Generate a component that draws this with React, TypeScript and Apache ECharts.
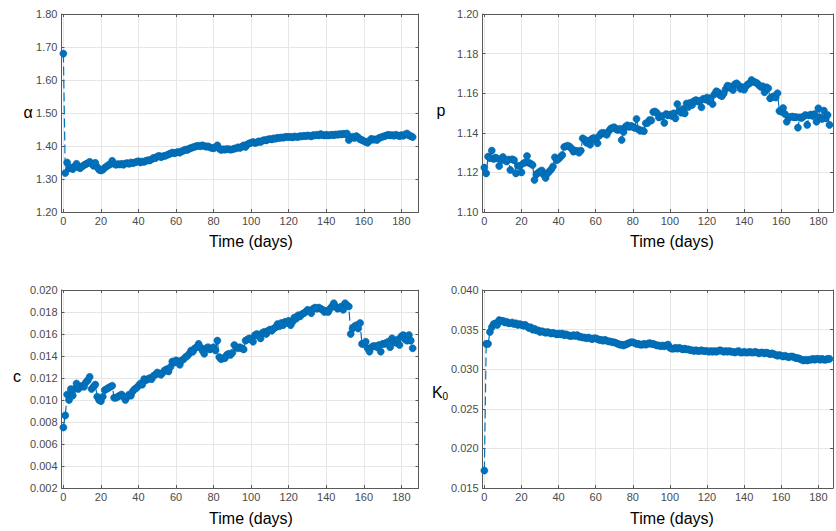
import React, { useEffect, useRef } from "react";
import * as echarts from "echarts";

const alphaVals = [
  1.680, 1.318, 1.350, 1.332, 1.335, 1.330, 1.338, 1.346, 1.335, 1.333,
  1.338, 1.342, 1.345, 1.348, 1.352, 1.347, 1.340, 1.349, 1.336, 1.328,
  1.326, 1.328, 1.334, 1.338, 1.342, 1.345, 1.355, 1.346, 1.343, 1.345,
  1.344, 1.346, 1.343, 1.347, 1.348, 1.346, 1.350, 1.348, 1.350, 1.352,
  1.354, 1.350, 1.353, 1.352, 1.355, 1.357, 1.356, 1.360, 1.364, 1.363,
  1.368, 1.370, 1.366, 1.369, 1.370, 1.372, 1.375, 1.377, 1.380, 1.378,
  1.380, 1.382, 1.380, 1.384, 1.386, 1.389, 1.388, 1.392, 1.394, 1.396,
  1.398, 1.400, 1.401, 1.399, 1.402, 1.400, 1.398, 1.399, 1.396, 1.394,
  1.393, 1.396, 1.402, 1.392, 1.388, 1.390, 1.389, 1.391, 1.390, 1.389,
  1.390, 1.392, 1.393, 1.396, 1.394, 1.398, 1.402, 1.397, 1.405, 1.408,
  1.410, 1.412, 1.409, 1.411, 1.414, 1.412, 1.416, 1.418, 1.417, 1.420,
  1.421, 1.420, 1.423, 1.422, 1.425, 1.424, 1.426, 1.425, 1.427, 1.428,
  1.427, 1.428, 1.426, 1.429, 1.428, 1.427, 1.430, 1.429, 1.431, 1.430,
  1.432, 1.431, 1.429, 1.433, 1.432, 1.434, 1.432, 1.436, 1.433, 1.432,
  1.434, 1.432, 1.433, 1.434, 1.433, 1.435, 1.434, 1.436, 1.435, 1.437,
  1.436, 1.438, 1.418, 1.425, 1.428, 1.424, 1.430, 1.426, 1.420, 1.418,
  1.415, 1.412, 1.410, 1.416, 1.422, 1.419, 1.420, 1.418, 1.424, 1.426,
  1.428, 1.430, 1.432, 1.434, 1.432, 1.433, 1.431, 1.434, 1.432, 1.430,
  1.433, 1.431, 1.435, 1.438, 1.432, 1.430, 1.427,
];

const pVals = [
  1.1224, 1.1195, 1.1280, 1.1272, 1.1310, 1.1268, 1.1275, 1.1270, 1.1232, 1.1262,
  1.1278, 1.1262, 1.1255, 1.1265, 1.1212, 1.1266, 1.1262, 1.1195, 1.1234, 1.1232,
  1.1200, 1.1246, 1.1250, 1.1283, 1.1248, 1.1244, 1.1237, 1.1162, 1.1190, 1.1198,
  1.1205, 1.1210, 1.1188, 1.1172, 1.1195, 1.1205, 1.1215, 1.1230, 1.1276, 1.1262,
  1.1268, 1.1278, 1.1288, 1.1328, 1.1332, 1.1335, 1.1330, 1.1320, 1.1305, 1.1310,
  1.1308, 1.1300, 1.1310, 1.1372, 1.1366, 1.1350, 1.1360, 1.1340, 1.1370, 1.1374,
  1.1362, 1.1347, 1.1385, 1.1398, 1.1400, 1.1395, 1.1390, 1.1408, 1.1420, 1.1425,
  1.1428, 1.1418, 1.1414, 1.1420, 1.1364, 1.1404, 1.1430, 1.1438, 1.1430, 1.1435,
  1.1430, 1.1425, 1.1470, 1.1418, 1.1410, 1.1412, 1.1408, 1.1448, 1.1450, 1.1465,
  1.1462, 1.1505, 1.1508, 1.1500, 1.1478, 1.1482, 1.1485, 1.1450, 1.1495, 1.1488,
  1.1492, 1.1485, 1.1498, 1.1473, 1.1545, 1.1510, 1.1502, 1.1520, 1.1498, 1.1548,
  1.1530, 1.1552, 1.1540, 1.1560, 1.1565, 1.1558, 1.1562, 1.1529, 1.1572, 1.1568,
  1.1578, 1.1560, 1.1575, 1.1545, 1.1595, 1.1610, 1.1605, 1.1590, 1.1585, 1.1598,
  1.1620, 1.1638, 1.1635, 1.1625, 1.1616, 1.1645, 1.1650, 1.1640, 1.1622, 1.1630,
  1.1618, 1.1635, 1.1645, 1.1650, 1.1667, 1.1658, 1.1655, 1.1650, 1.1640, 1.1632,
  1.1635, 1.1605, 1.1630, 1.1625, 1.1574, 1.1580, 1.1585, 1.1578, 1.1600, 1.1510,
  1.1507, 1.1525, 1.1495, 1.1456, 1.1478, 1.1480, 1.1482, 1.1478, 1.1480, 1.1426,
  1.1478, 1.1475, 1.1482, 1.1490, 1.1440, 1.1488, 1.1492, 1.1485, 1.1495, 1.1456,
  1.1524, 1.1478, 1.1470, 1.1512, 1.1473, 1.1490, 1.1440,
];

const cVals = [
  0.0075, 0.0086, 0.0105, 0.0100, 0.0110, 0.0104, 0.0110, 0.0115, 0.0110, 0.0112,
  0.0113, 0.0112, 0.0116, 0.0118, 0.0121, 0.0110, 0.0112, 0.0114, 0.0103, 0.0100,
  0.0099, 0.0103, 0.0109, 0.0110, 0.0111, 0.0112, 0.0113, 0.0102, 0.0102, 0.0103,
  0.0104, 0.0105, 0.0103, 0.0100, 0.0103, 0.0105, 0.0104, 0.0108, 0.0110, 0.0111,
  0.0113, 0.0115, 0.0114, 0.0119, 0.0118, 0.0119, 0.0120, 0.0119, 0.0122, 0.0123,
  0.0125, 0.0124, 0.0123, 0.0125, 0.0127, 0.0128, 0.0126, 0.0130, 0.0135, 0.0134,
  0.0136, 0.0135, 0.0132, 0.0136, 0.0137, 0.0139, 0.0140, 0.0142, 0.0145, 0.0144,
  0.0147, 0.0148, 0.0151, 0.0148, 0.0145, 0.0142, 0.0147, 0.0148, 0.0146, 0.0147,
  0.0148, 0.0145, 0.0154, 0.0139, 0.0137, 0.0138, 0.0138, 0.0141, 0.0142, 0.0141,
  0.0143, 0.0150, 0.0148, 0.0147, 0.0148, 0.0147, 0.0146, 0.0154, 0.0155, 0.0156,
  0.0155, 0.0153, 0.0159, 0.0160, 0.0158, 0.0156, 0.0161, 0.0162, 0.0160, 0.0163,
  0.0164, 0.0163, 0.0165, 0.0166, 0.0169, 0.0167, 0.0170, 0.0168, 0.0171, 0.0170,
  0.0172, 0.0168, 0.0171, 0.0175, 0.0174, 0.0177, 0.0176, 0.0178, 0.0179, 0.0180,
  0.0182, 0.0181, 0.0179, 0.0183, 0.0184, 0.0183, 0.0184, 0.0183, 0.0182, 0.0180,
  0.0181, 0.0180, 0.0183, 0.0185, 0.0188, 0.0185, 0.0183, 0.0184, 0.0185, 0.0182,
  0.0188, 0.0186, 0.0185, 0.0160, 0.0165, 0.0167, 0.0168, 0.0165, 0.0170, 0.0151,
  0.0151, 0.0153, 0.0147, 0.0144, 0.0148, 0.0149, 0.0149, 0.0148, 0.0150, 0.0144,
  0.0151, 0.0151, 0.0152, 0.0153, 0.0148, 0.0156, 0.0153, 0.0152, 0.0155, 0.0150,
  0.0158, 0.0159, 0.0155, 0.0154, 0.0159, 0.0154, 0.0147,
];

const k0Vals = [
  0.0172, 0.0332, 0.0332, 0.0347, 0.0353, 0.0357, 0.0358, 0.0356, 0.0362, 0.0361,
  0.0361, 0.0359, 0.0360, 0.0358, 0.0358, 0.0359, 0.0357, 0.0358, 0.0356, 0.0357,
  0.0356, 0.0355, 0.0356, 0.0354, 0.0352, 0.0353, 0.0350, 0.0351, 0.0349, 0.0349,
  0.0347, 0.0348, 0.0347, 0.0346, 0.0347, 0.0346, 0.0345, 0.0346, 0.0345, 0.0344,
  0.0345, 0.0344, 0.0345, 0.0343, 0.0344, 0.0343, 0.0342, 0.0342, 0.0343, 0.0342,
  0.0343, 0.0341, 0.0341, 0.0340, 0.0340, 0.0339, 0.0340, 0.0339, 0.0338, 0.0339,
  0.0339, 0.0338, 0.0337, 0.0337, 0.0336, 0.0337, 0.0336, 0.0335, 0.0335, 0.0334,
  0.0334, 0.0333, 0.0332, 0.0331, 0.0331, 0.0330, 0.0331, 0.0332, 0.0333, 0.0334,
  0.0334, 0.0333, 0.0332, 0.0332, 0.0331, 0.0331, 0.0332, 0.0331, 0.0332, 0.0333,
  0.0332, 0.0332, 0.0331, 0.0330, 0.0330, 0.0329, 0.0330, 0.0329, 0.0330, 0.0331,
  0.0327, 0.0326, 0.0326, 0.0327, 0.0326, 0.0327, 0.0326, 0.0325, 0.0326, 0.0325,
  0.0325, 0.0324, 0.0324, 0.0323, 0.0324, 0.0323, 0.0323, 0.0324, 0.0323, 0.0323,
  0.0323, 0.0322, 0.0323, 0.0322, 0.0323, 0.0322, 0.0323, 0.0324, 0.0323, 0.0322,
  0.0323, 0.0322, 0.0323, 0.0322, 0.0322, 0.0321, 0.0322, 0.0323, 0.0321, 0.0321,
  0.0322, 0.0321, 0.0321, 0.0322, 0.0321, 0.0321, 0.0322, 0.0321, 0.0320, 0.0321,
  0.0321, 0.0320, 0.0321, 0.0320, 0.0319, 0.0320, 0.0319, 0.0318, 0.0317, 0.0318,
  0.0317, 0.0316, 0.0317, 0.0316, 0.0315, 0.0316, 0.0316, 0.0315, 0.0314, 0.0314,
  0.0313, 0.0312, 0.0311, 0.0312, 0.0311, 0.0312, 0.0312, 0.0313, 0.0312, 0.0313,
  0.0313, 0.0312, 0.0313, 0.0312, 0.0312, 0.0313, 0.0313,
];

const xLabel = "Time (days)";

const BLUE = "#0072BD";
const FONT = "Liberation Sans, Arial, Helvetica, sans-serif";
const AXIS_COLOR = "#595959";
const LABEL_COLOR = "#4a4a4a";
const GRID_COLOR = "#e6e6e6";

type Panel = {
  vals: number[];
  yMin: number;
  yMax: number;
  yInt: number;
  dec: number;
  xMax: number;
  grid: { left: number; top: number; width: number; height: number };
};

const panels: Panel[] = [
  { vals: alphaVals, yMin: 1.2, yMax: 1.8, yInt: 0.1, dec: 2, xMax: 189.1, grid: { left: 61.5, top: 14, width: 357, height: 198 } },
  { vals: pVals, yMin: 1.1, yMax: 1.2, yInt: 0.02, dec: 2, xMax: 187.9, grid: { left: 482.5, top: 14, width: 353.3, height: 198 } },
  { vals: cVals, yMin: 0.002, yMax: 0.02, yInt: 0.002, dec: 3, xMax: 189.1, grid: { left: 61.5, top: 290, width: 357, height: 198 } },
  { vals: k0Vals, yMin: 0.015, yMax: 0.04, yInt: 0.005, dec: 3, xMax: 187.9, grid: { left: 482.5, top: 290, width: 353.3, height: 198 } },
];

export default function App() {
  const ref = useRef<HTMLDivElement>(null);
  useEffect(() => {
    if (!ref.current) return;
    const chart = echarts.init(ref.current, null, { renderer: "svg" });
    const grids: any[] = [];
    const xAxes: any[] = [];
    const yAxes: any[] = [];
    const series: any[] = [];
    panels.forEach((p, i) => {
      grids.push({ ...p.grid, containLabel: false });
      const xBase = {
        gridIndex: i,
        type: "value",
        min: -1,
        max: p.xMax,
        splitNumber: 10,
        axisLine: { show: true, onZero: false, lineStyle: { color: AXIS_COLOR, width: 1 } },
        axisTick: { show: true, inside: true, length: 3, lineStyle: { color: AXIS_COLOR } },
      };
      xAxes.push({
        ...xBase,
        position: "bottom",
        axisLabel: {
          show: true,
          margin: 3,
          color: LABEL_COLOR,
          fontSize: 11,
          fontFamily: FONT,
          showMinLabel: true,
          showMaxLabel: true,
          formatter: (v: number) => (v >= 0 && Math.abs(v % 20) < 1e-6 ? String(Math.round(v)) : ""),
        },
        splitLine: { show: true, lineStyle: { color: GRID_COLOR, width: 1 } },
      });
      xAxes.push({
        ...xBase,
        position: "top",
        axisLabel: { show: false },
        splitLine: { show: false },
      });
      const yBase = {
        gridIndex: i,
        type: "value",
        min: p.yMin,
        max: p.yMax,
        interval: p.yInt,
        axisLine: { show: true, onZero: false, lineStyle: { color: AXIS_COLOR, width: 1 } },
        axisTick: { show: true, inside: true, length: 3, lineStyle: { color: AXIS_COLOR } },
      };
      yAxes.push({
        ...yBase,
        position: "left",
        axisLabel: {
          show: true,
          margin: 4,
          color: LABEL_COLOR,
          fontSize: 11,
          fontFamily: FONT,
          formatter: (v: number) => v.toFixed(p.dec),
        },
        splitLine: { show: true, lineStyle: { color: GRID_COLOR, width: 1 } },
      });
      yAxes.push({
        ...yBase,
        position: "right",
        axisLabel: { show: false },
        splitLine: { show: false },
      });
      series.push({
        type: "line",
        xAxisIndex: 2 * i,
        yAxisIndex: 2 * i,
        data: p.vals.map((v, d) => [d, v]),
        symbol: "circle",
        symbolSize: 7,
        showSymbol: true,
        showAllSymbol: true,
        lineStyle: { color: BLUE, width: 1.2, type: [9, 4] },
        itemStyle: { color: BLUE, borderColor: "#0063a6", borderWidth: 0.6 },
        z: 3,
      });
    });

    const titleStyle = { fontSize: 16, fontFamily: FONT, fill: "#000" };
    const graphic: any[] = [
      { type: "text", x: 251, y: 241, style: { ...titleStyle, text: xLabel, align: "center", verticalAlign: "middle" } },
      { type: "text", x: 672, y: 241, style: { ...titleStyle, text: xLabel, align: "center", verticalAlign: "middle" } },
      { type: "text", x: 251, y: 518, style: { ...titleStyle, text: xLabel, align: "center", verticalAlign: "middle" } },
      { type: "text", x: 672, y: 518, style: { ...titleStyle, text: xLabel, align: "center", verticalAlign: "middle" } },
      { type: "text", x: 28, y: 112, style: { ...titleStyle, text: "α", align: "center", verticalAlign: "middle" } },
      { type: "text", x: 441, y: 110, style: { ...titleStyle, text: "p", align: "center", verticalAlign: "middle" } },
      { type: "text", x: 17, y: 376, style: { ...titleStyle, text: "c", align: "center", verticalAlign: "middle" } },
      {
        type: "text",
        x: 440,
        y: 392,
        style: {
          text: "{k|K}{s|0}",
          align: "center",
          verticalAlign: "middle",
          fill: "#000",
          fontFamily: FONT,
          rich: {
            k: { fontSize: 16, fontFamily: FONT, fill: "#000" },
            s: { fontSize: 10, fontFamily: FONT, fill: "#000", padding: [8, 0, 0, 0] },
          },
        },
      },
    ];

    chart.setOption({
      animation: false,
      backgroundColor: "#ffffff",
      grid: grids,
      xAxis: xAxes,
      yAxis: yAxes,
      series,
      graphic,
    });
    return () => chart.dispose();
  }, []);
  return (
    <div
      ref={ref}
      style={{ position: "fixed", left: 0, top: 0, width: 836, height: 531, background: "#fff" }}
    />
  );
}
